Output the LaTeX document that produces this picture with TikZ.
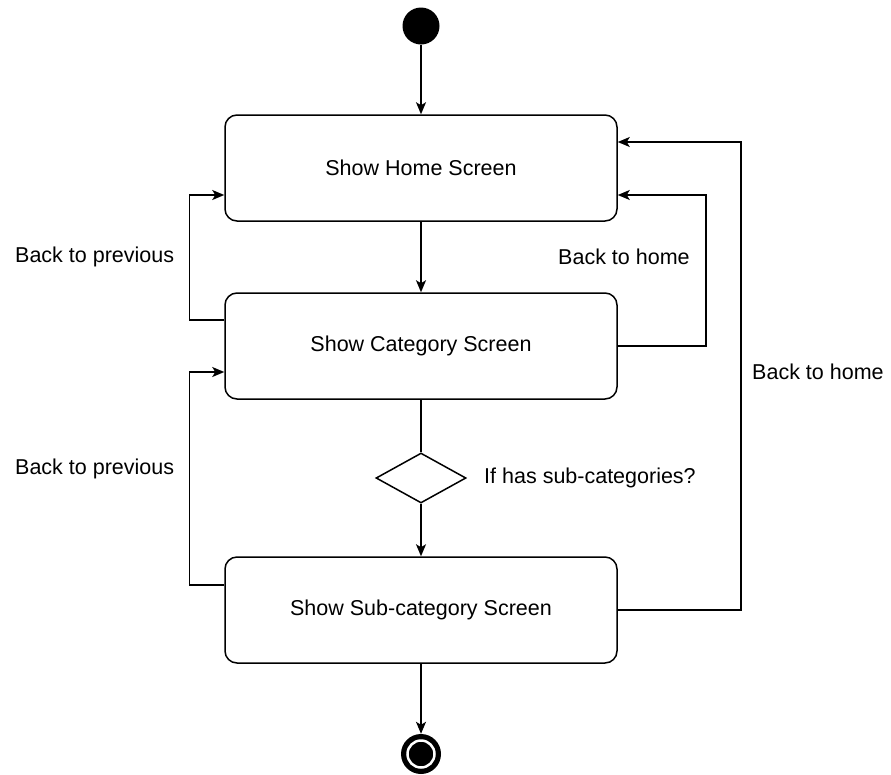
\documentclass[tikz,border=0pt]{standalone}
\usepackage{fontspec}
\setmainfont{Liberation Sans}
\usetikzlibrary{arrows.meta,shapes.geometric}
\begin{document}
\begin{tikzpicture}[x=1pt,y=-1pt,
  every node/.style={font=\fontsize{21.5}{26}\selectfont},
  state/.style={draw, line width=1.5pt, rounded corners=12pt, minimum width=392pt, minimum height=106pt, inner sep=0pt},
  arr/.style={line width=1.5pt, -{Stealth[length=12pt,width=10pt,inset=3pt]}},
  ln/.style={line width=1.5pt},
  lbl/.style={inner sep=0pt, anchor=west}]
\useasboundingbox (0,0) rectangle (891,774);
\node[circle, fill=black, minimum size=37pt, inner sep=0pt] (start) at (421,26) {};
\node[state] (home) at (421,168) {Show Home Screen};
\node[state] (cat) at (421,346) {Show Category Screen};
\node[diamond, draw, line width=1.5pt, minimum width=90pt, minimum height=50pt, inner sep=0pt, aspect=1.8] (dia) at (421,478) {};
\node[state] (sub) at (421,610) {Show Sub-category Screen};
\node[circle, fill=black, minimum size=40pt, inner sep=0pt] (end) at (421,754) {};
\node[circle, fill=black, draw=white, line width=2.5pt, minimum size=27pt, inner sep=0pt] (endin) at (end) {};
\draw[arr] (start) -- (home);
\draw[arr] (home) -- (cat);
\draw[ln] (cat) -- (dia);
\draw[arr] (dia) -- (sub);
\draw[arr] (sub) -- (end);
\draw[arr] ([yshift=26pt]cat.west) -- ++(-35,0) |- ([yshift=-27pt]home.west);
\draw[arr] ([yshift=25pt]sub.west) -- ++(-35,0) |- ([yshift=-26pt]cat.west);
\draw[arr] (cat.east) -- ++(88,0) |- ([yshift=-27pt]home.east);
\draw[arr] (sub.east) -- ++(123,0) |- ([yshift=26pt]home.east);
\node[lbl] (l1) at (15,257) {Back to previous};
\node[lbl] (l2) at (15,469) {Back to previous};
\node[lbl] (l3) at (558,257) {Back to home};
\node[lbl] (l4) at (752,372) {Back to home};
\node[lbl] (l5) at (484,478) {If has sub-categories?};
\end{tikzpicture}
\end{document}
